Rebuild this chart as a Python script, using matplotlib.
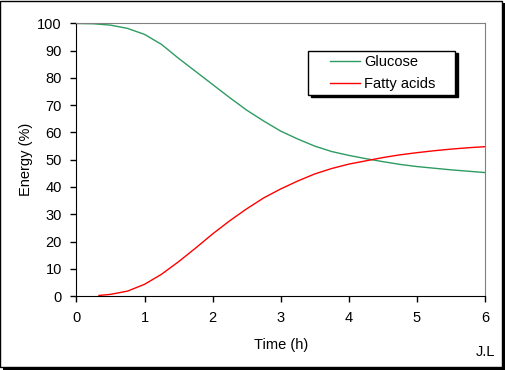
import matplotlib
matplotlib.use("Agg")
import matplotlib.pyplot as plt
from matplotlib.lines import Line2D
from matplotlib.patches import Rectangle
from matplotlib.legend_handler import HandlerLine2D

# Energy share over time
t_glucose = [0, 0.25, 0.5, 0.75, 1, 1.25, 1.5, 1.75, 2, 2.25, 2.5, 2.75, 3,
             3.25, 3.5, 3.75, 4, 4.25, 4.5, 4.75, 5, 5.25, 5.5, 5.75, 6]
glucose = [100, 99.9, 99.4, 98.2, 96.0, 92.3, 87.2, 82.4, 77.6, 72.8, 68.2, 64.2, 60.5,
           57.6, 55.0, 53.0, 51.6, 50.4, 49.3, 48.3, 47.5, 46.9, 46.3, 45.8, 45.3]

t_fatty = [0.33, 0.5, 0.75, 1, 1.25, 1.5, 1.75, 2, 2.25, 2.5, 2.75, 3,
           3.25, 3.5, 3.75, 4, 4.25, 4.5, 4.75, 5, 5.25, 5.5, 5.75, 6]
fatty = [0.2, 0.6, 1.8, 4.3, 8.0, 12.6, 17.6, 22.8, 27.6, 32.0, 36.0, 39.3,
         42.2, 44.8, 46.8, 48.4, 49.6, 50.8, 51.8, 52.6, 53.3, 53.9, 54.4, 54.8]

x_ticks = [0, 1, 2, 3, 4, 5, 6]
y_ticks = list(range(0, 101, 10))

plt.rcParams['font.family'] = ['Liberation Sans', 'DejaVu Sans']


class IndentedLine(HandlerLine2D):
    # legend line that starts some way in from the left of the handle box
    def create_artists(self, legend, orig_handle, xdescent, ydescent,
                       width, height, fontsize, trans):
        arts = super().create_artists(legend, orig_handle, xdescent, ydescent,
                                      width, height, fontsize, trans)
        line = arts[0]
        y = line.get_ydata()[0]
        line.set_data([-xdescent + 1.2 * fontsize, -xdescent + width], [y, y])
        return arts


W, H = 506, 370
fig = plt.figure(figsize=(W / 100, H / 100), dpi=100)
fig.patch.set_facecolor('white')

# outer frame with a hard black shadow
fig.patches.append(Rectangle((3 / W, 0), 503 / W, 367 / H, transform=fig.transFigure,
                             facecolor='black', edgecolor='none', zorder=-2))
fig.patches.append(Rectangle((0.5 / W, 3.5 / H), 502 / W, 366 / H, transform=fig.transFigure,
                             facecolor='white', edgecolor='black', linewidth=1, zorder=-1))

ax_w, ax_h = 408.5, 272.5
ax = fig.add_axes([76.5 / W, 74 / H, ax_w / W, ax_h / H])
ax.set_zorder(2)
ax.set_facecolor('none')

ax.plot(t_glucose, glucose, color='#2E9B62', linewidth=1, label='Glucose')
ax.plot(t_fatty, fatty, color='#FF0000', linewidth=1, label='Fatty acids')

ax.set_xlim(0, 6)
ax.set_ylim(0, 100)
ax.set_xticks(x_ticks)
ax.set_yticks(y_ticks)
ax.tick_params(direction='out', length=4, width=1, color='black', labelsize=10.5)
ax.tick_params(axis='y', pad=6.5)
ax.tick_params(axis='x', pad=7)

for side in ['top', 'right']:
    ax.spines[side].set_color('#808080')
for side in ['left', 'bottom']:
    ax.spines[side].set_color('black')

ax.set_xlabel('Time (h)', fontsize=10.5, labelpad=9)
ax.set_ylabel('Energy (%)', fontsize=10.5, labelpad=3)

# legend box: x 308..455, y 50..97 px
lx0 = (308.5 - 76.5) / ax_w
ltop = 1 - (50.5 - 23.5) / ax_h
lw = 147 / ax_w
lh = 46.5 / ax_h
leg = ax.legend(loc='upper left', bbox_to_anchor=(lx0, ltop - lh, lw, lh), mode='expand',
                borderaxespad=0, frameon=True, fancybox=False, fontsize=10.5,
                handlelength=3.26, handletextpad=0.27, borderpad=0.3, labelspacing=0.55,
                handler_map={Line2D: IndentedLine()},
                shadow={'color': 'black', 'alpha': 1, 'ox': 1.5, 'oy': -1.5})
leg.get_frame().set_edgecolor('black')
leg.get_frame().set_linewidth(1)
leg.get_frame().set_alpha(1)

fig.text(495 / W, 1 - 352 / H, 'J.L', fontsize=10.5, ha='right', va='center')

fig.savefig('out.png', dpi=100)
